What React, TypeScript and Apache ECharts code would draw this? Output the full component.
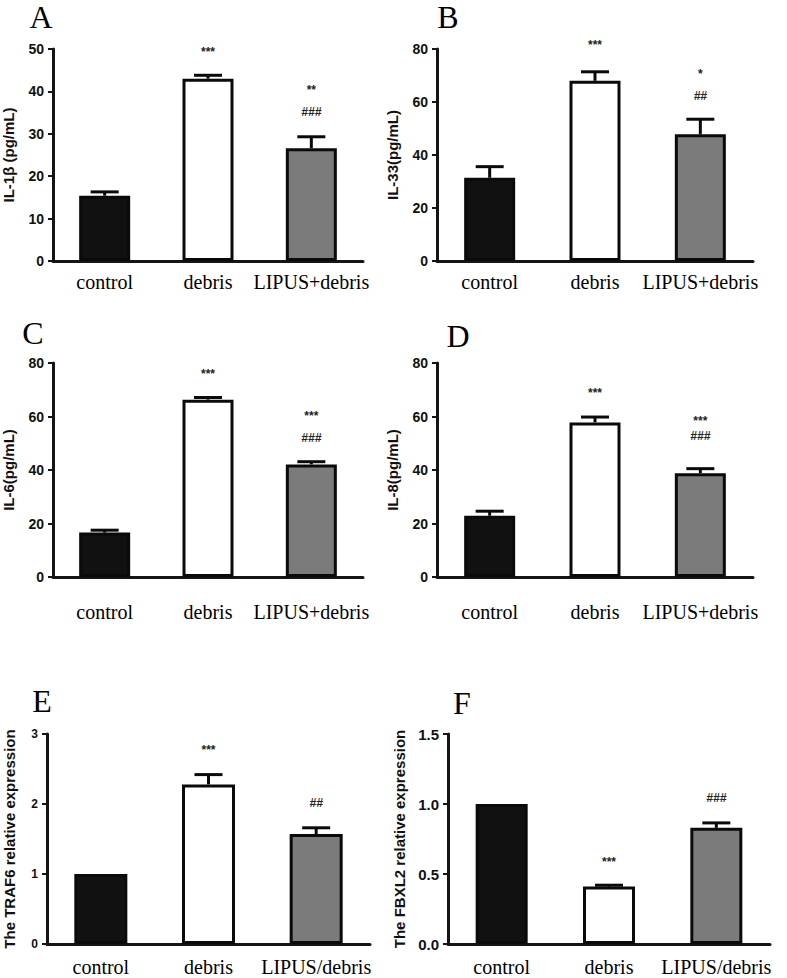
import React, { useEffect, useRef } from "react";
import * as echarts from "echarts";

const categoriesTop = ["control", "debris", "LIPUS+debris"];
const categoriesBottom = ["control", "debris", "LIPUS/debris"];

const il1bMean = [15.4, 43.0, 26.6];
const il1bSem = [0.9, 0.8, 2.7];
const il33Mean = [31.4, 68.0, 47.8];
const il33Sem = [4.2, 3.4, 5.7];
const il6Mean = [16.6, 66.3, 42.1];
const il6Sem = [0.9, 0.8, 1.0];
const il8Mean = [22.9, 57.8, 38.8];
const il8Sem = [1.7, 2.0, 1.7];
const traf6Mean = [1.0, 2.28, 1.57];
const traf6Sem = [0.0, 0.14, 0.09];
const fbxl2Mean = [1.0, 0.41, 0.83];
const fbxl2Sem = [0.0, 0.01, 0.035];

// annotations: [category index, y position (data units), text]
const il1bMarks: [number, number, string][] = [[1, 49.8, "***"], [2, 40.8, "**"], [2, 35.1, "###"]];
const il33Marks: [number, number, string][] = [[1, 82.3, "***"], [2, 71.3, "*"], [2, 62.3, "##"]];
const il6Marks: [number, number, string][] = [[1, 76.6, "***"], [2, 60.9, "***"], [2, 52.0, "###"]];
const il8Marks: [number, number, string][] = [[1, 69.5, "***"], [2, 59.0, "***"], [2, 52.8, "###"]];
const traf6Marks: [number, number, string][] = [[1, 2.8, "***"], [2, 2.01, "##"]];
const fbxl2Marks: [number, number, string][] = [[1, 0.6, "***"], [2, 1.04, "###"]];

const barColors = ["#111111", "#ffffff", "#7b7b7b"];
const SANS = "Arial, 'Liberation Sans', Helvetica, sans-serif";
const SERIF = "'Times New Roman', 'Liberation Serif', serif";

type Panel = {
  letter: string;
  letterPos: [number, number];
  grid: { left: number; top: number; width: number; height: number };
  cats: string[];
  mean: number[];
  sem: number[];
  marks: [number, number, string][];
  yName: string;
  yMax: number;
  yInterval: number;
  yDecimals: number;
  yLabelSize: number;
  nameGap: number;
  labelMargin: number;
  barWidth: number;
};

const panels: Panel[] = [
  { letter: "A", letterPos: [41, 17], grid: { left: 47, top: 49, width: 316, height: 212 }, cats: categoriesTop, mean: il1bMean, sem: il1bSem, marks: il1bMarks, yName: "IL-1β (pg/mL)", yMax: 50, yInterval: 10, yDecimals: 0, yLabelSize: 14, nameGap: 37, labelMargin: 11, barWidth: 51 },
  { letter: "B", letterPos: [448, 17], grid: { left: 437, top: 49, width: 316, height: 212 }, cats: categoriesTop, mean: il33Mean, sem: il33Sem, marks: il33Marks, yName: "IL-33(pg/mL)", yMax: 80, yInterval: 20, yDecimals: 0, yLabelSize: 14, nameGap: 37, labelMargin: 11, barWidth: 51 },
  { letter: "C", letterPos: [33, 333], grid: { left: 47, top: 363, width: 316, height: 214 }, cats: categoriesTop, mean: il6Mean, sem: il6Sem, marks: il6Marks, yName: "IL-6(pg/mL)", yMax: 80, yInterval: 20, yDecimals: 0, yLabelSize: 14, nameGap: 37, labelMargin: 25, barWidth: 51 },
  { letter: "D", letterPos: [458, 336], grid: { left: 437, top: 363, width: 316, height: 214 }, cats: categoriesTop, mean: il8Mean, sem: il8Sem, marks: il8Marks, yName: "IL-8(pg/mL)", yMax: 80, yInterval: 20, yDecimals: 0, yLabelSize: 14, nameGap: 37, labelMargin: 25, barWidth: 51 },
  { letter: "E", letterPos: [42, 701], grid: { left: 47, top: 734, width: 323, height: 210 }, cats: categoriesBottom, mean: traf6Mean, sem: traf6Sem, marks: traf6Marks, yName: "The TRAF6 relative expression", yMax: 3, yInterval: 1, yDecimals: 0, yLabelSize: 12, nameGap: 30, labelMargin: 13, barWidth: 53 },
  { letter: "F", letterPos: [462, 703], grid: { left: 448, top: 734, width: 322, height: 210 }, cats: categoriesBottom, mean: fbxl2Mean, sem: fbxl2Sem, marks: fbxl2Marks, yName: "The FBXL2 relative expression", yMax: 1.5, yInterval: 0.5, yDecimals: 1, yLabelSize: 15, nameGap: 41, labelMargin: 13, barWidth: 52 },
];

function buildOption() {
  const grids: any[] = [];
  const xAxes: any[] = [];
  const yAxes: any[] = [];
  const series: any[] = [];
  const graphics: any[] = [];

  panels.forEach((p, i) => {
    grids.push({ ...p.grid, containLabel: false });
    xAxes.push({
      type: "category",
      gridIndex: i,
      data: p.cats,
      axisLine: { lineStyle: { color: "#151515", width: 3 } },
      axisTick: { alignWithLabel: true, length: 6, lineStyle: { color: "#151515", width: 2 } },
      axisLabel: { color: "#000", fontFamily: SERIF, fontSize: 20, margin: p.labelMargin, interval: 0 },
      splitLine: { show: false },
    });
    yAxes.push({
      type: "value",
      gridIndex: i,
      min: 0,
      max: p.yMax,
      interval: p.yInterval,
      name: p.yName,
      nameLocation: "middle",
      nameGap: p.nameGap,
      nameTextStyle: { color: "#111", fontFamily: SANS, fontWeight: "bold", fontSize: 15 },
      axisLine: { show: true, lineStyle: { color: "#151515", width: 3 } },
      axisTick: { show: true, length: 5, lineStyle: { color: "#151515", width: 2 } },
      axisLabel: {
        color: "#111",
        fontFamily: SANS,
        fontWeight: "bold",
        fontSize: p.yLabelSize,
        margin: 9,
        formatter: (v: number) => v.toFixed(p.yDecimals),
      },
      splitLine: { show: false },
    });

    series.push({
      type: "bar",
      xAxisIndex: i,
      yAxisIndex: i,
      barWidth: p.barWidth,
      data: p.mean.map((v, k) => ({
        value: v,
        itemStyle: { color: barColors[k], borderColor: "#0a0a0a", borderWidth: 3 },
      })),
      z: 2,
    });

    const errData = p.mean
      .map((m, k) => [k, m, m + p.sem[k]])
      .filter((d) => d[2] > d[1]);
    series.push({
      type: "custom",
      xAxisIndex: i,
      yAxisIndex: i,
      data: errData,
      z: 3,
      clip: false,
      renderItem: (params: any, api: any) => {
        const base = api.coord([api.value(0), api.value(1)]);
        const top = api.coord([api.value(0), api.value(2)]);
        const cap = 28;
        return {
          type: "group",
          children: [
            { type: "line", shape: { x1: base[0], y1: base[1], x2: top[0], y2: top[1] }, style: { stroke: "#0a0a0a", lineWidth: 3 } },
            { type: "line", shape: { x1: top[0] - cap / 2, y1: top[1], x2: top[0] + cap / 2, y2: top[1] }, style: { stroke: "#0a0a0a", lineWidth: 3 } },
          ],
        };
      },
    });

    const marks = p.marks;
    series.push({
      type: "custom",
      xAxisIndex: i,
      yAxisIndex: i,
      data: marks.map((m) => [m[0], m[1]]),
      z: 4,
      clip: false,
      renderItem: (params: any, api: any) => {
        const pt = api.coord([api.value(0), api.value(1)]);
        const txt = marks[params.dataIndex][2];
        const isStar = txt.indexOf("*") >= 0;
        return {
          type: "text",
          x: pt[0],
          y: pt[1] + (isStar ? 2 : 0),
          style: {
            text: txt,
            fill: "#222",
            font: `${isStar ? "" : "italic "}bold 12px ${SANS}`,
            align: "center",
            verticalAlign: "middle",
          },
        };
      },
    });

    graphics.push({
      type: "text",
      x: p.letterPos[0],
      y: p.letterPos[1],
      style: {
        text: p.letter,
        fill: "#000",
        font: `32px ${SERIF}`,
        align: "center",
        verticalAlign: "middle",
      },
    });
  });

  return {
    animation: false,
    backgroundColor: "#ffffff",
    grid: grids,
    xAxis: xAxes,
    yAxis: yAxes,
    series,
    graphic: graphics,
  };
}

export default function App() {
  const ref = useRef<HTMLDivElement>(null);
  useEffect(() => {
    if (!ref.current) return;
    const chart = echarts.init(ref.current, undefined, { renderer: "svg" });
    chart.setOption(buildOption() as any);
    return () => chart.dispose();
  }, []);
  return (
    <div
      ref={ref}
      style={{ position: "absolute", left: 0, top: 0, width: 787, height: 978, background: "#fff" }}
    />
  );
}
